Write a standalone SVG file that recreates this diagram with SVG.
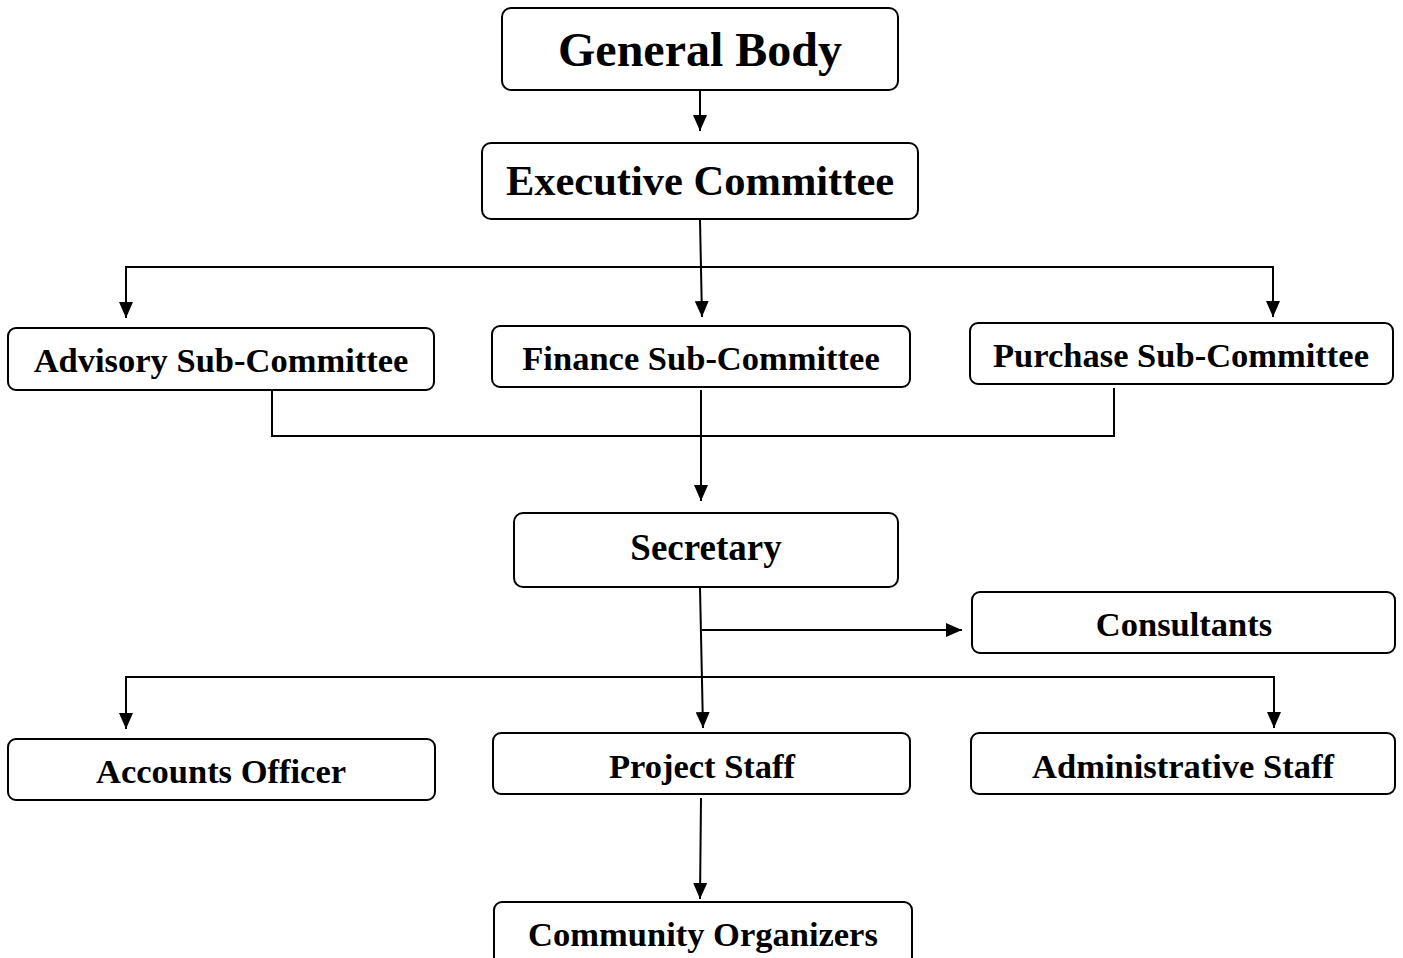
<svg xmlns="http://www.w3.org/2000/svg" width="1403" height="958" viewBox="0 0 1403 958">
<defs>
<marker id="arr" markerUnits="userSpaceOnUse" markerWidth="16" markerHeight="14" viewBox="0 0 16 14" refX="16" refY="7" orient="auto-start-reverse">
<path d="M0,0 L16,7 L0,14 Z" fill="#000"/>
</marker>
</defs>
<style>
.box{fill:#fff;stroke:#000;stroke-width:2;}
.t{font-family:"Liberation Serif","Times New Roman",serif;font-weight:bold;fill:#000;text-anchor:middle;font-size:34.5px;}
.c{fill:none;stroke:#000;stroke-width:2;}
</style>
<rect width="1403" height="958" fill="#fff"/>
<g id="connectors">
<line class="c" x1="700" y1="91" x2="700" y2="131" marker-end="url(#arr)"/>
<line class="c" x1="700" y1="220" x2="702" y2="317" marker-end="url(#arr)"/>
<polyline class="c" points="126,318 126,267 1273,267 1273,317" marker-start="url(#arr)" marker-end="url(#arr)"/>
<polyline class="c" points="272,391 272,436 1114,436 1114,388"/>
<line class="c" x1="701" y1="390" x2="701" y2="501" marker-end="url(#arr)"/>
<line class="c" x1="700" y1="588" x2="703" y2="728" marker-end="url(#arr)"/>
<line class="c" x1="702" y1="630" x2="962" y2="630" marker-end="url(#arr)"/>
<polyline class="c" points="126,729 126,677 1274,677 1274,728" marker-start="url(#arr)" marker-end="url(#arr)"/>
<line class="c" x1="701" y1="798" x2="700" y2="899" marker-end="url(#arr)"/>
</g>
<g id="general-body">
<rect class="box" x="502" y="8" width="396" height="82" rx="9"/>
<text class="t" x="700" y="66" style="font-size:48px">General Body</text>
</g>
<g id="executive-committee">
<rect class="box" x="482" y="143" width="436" height="76" rx="9"/>
<text class="t" x="700" y="195" style="font-size:42.5px">Executive Committee</text>
</g>
<g id="advisory">
<rect class="box" x="8" y="328" width="426" height="62" rx="8"/>
<text class="t" x="221" y="372">Advisory Sub-Committee</text>
</g>
<g id="finance">
<rect class="box" x="492" y="326" width="418" height="61" rx="8"/>
<text class="t" x="701" y="370">Finance Sub-Committee</text>
</g>
<g id="purchase">
<rect class="box" x="970" y="323" width="423" height="61" rx="8"/>
<text class="t" x="1181" y="367">Purchase Sub-Committee</text>
</g>
<g id="secretary">
<rect class="box" x="514" y="513" width="384" height="74" rx="9"/>
<text class="t" x="706" y="560" style="font-size:37px">Secretary</text>
</g>
<g id="consultants">
<rect class="box" x="972" y="592" width="423" height="61" rx="8"/>
<text class="t" x="1184" y="636">Consultants</text>
</g>
<g id="accounts-officer">
<rect class="box" x="8" y="739" width="427" height="61" rx="8"/>
<text class="t" x="221" y="783">Accounts Officer</text>
</g>
<g id="project-staff">
<rect class="box" x="493" y="733" width="417" height="61" rx="8"/>
<text class="t" x="702" y="778">Project Staff</text>
</g>
<g id="administrative-staff">
<rect class="box" x="971" y="733" width="424" height="61" rx="8"/>
<text class="t" x="1183" y="778">Administrative Staff</text>
</g>
<g id="community-organizers">
<rect class="box" x="494" y="902" width="418" height="70" rx="8"/>
<text class="t" x="703" y="946">Community Organizers</text>
</g>
</svg>
